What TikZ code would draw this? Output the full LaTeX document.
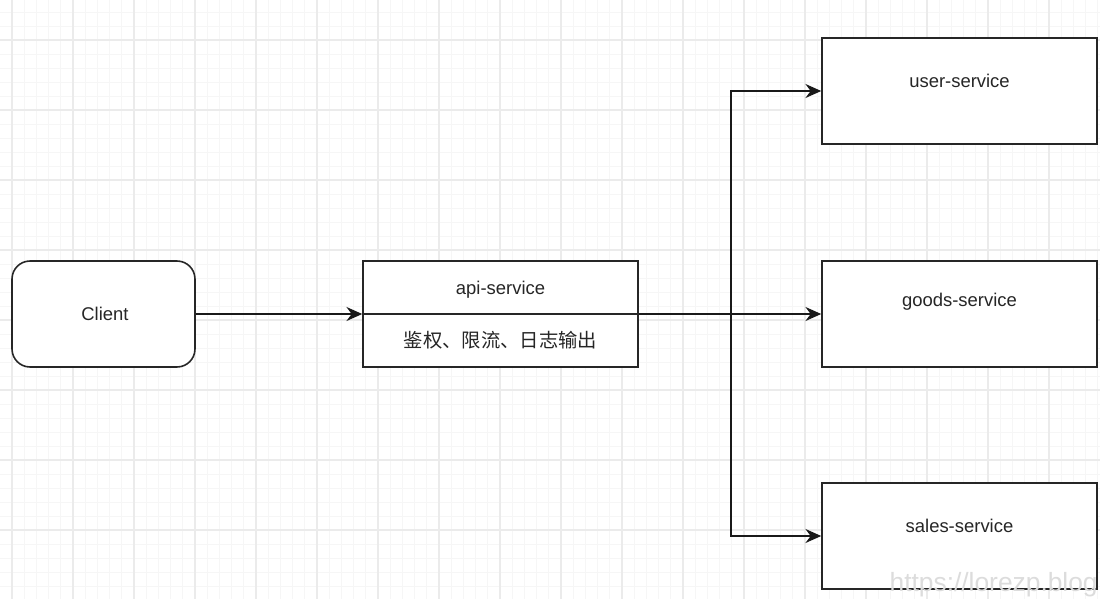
\documentclass[tikz,border=0pt]{standalone}
\usepackage{fontspec}
\setmainfont{Liberation Sans}
\newfontfamily\cjk{Noto Sans CJK SC}
\usetikzlibrary{arrows.meta}
\definecolor{gridminor}{HTML}{F6F6F6}
\definecolor{gridmajor}{HTML}{EBEBEB}
\definecolor{wmark}{HTML}{DCDCDC}
\tikzset{
  box/.style={draw=black!85, line width=0.9pt, fill=white, rectangle, minimum width=5.5cm, minimum height=2.12cm, inner sep=0pt},
  roundbox/.style={box, rounded corners=0.36cm, minimum width=3.66cm},
  lbl/.style={font=\fontsize{10.5}{12}\selectfont, text=black!85},
  conn/.style={draw=black!90, line width=0.9pt, -{Stealth[length=9pt,width=8pt,inset=3pt]}}
}
\begin{document}
\begin{tikzpicture}[x=0.02cm,y=-0.02cm]
\useasboundingbox (0,0) rectangle (1100,599);
% grid
\begin{scope}
\clip (0,0) rectangle (1100,599);
\foreach \i in {0,...,95} {
  \pgfmathsetmacro{\xx}{12+\i*12.2-61}
  \draw[gridminor, line width=0.5pt] (\xx,0) -- (\xx,599);
}
\foreach \i in {0,...,50} {
  \pgfmathsetmacro{\yy}{40+\i*14-70}
  \draw[gridminor, line width=0.5pt] (0,\yy) -- (1100,\yy);
}
\foreach \i in {0,...,19} {
  \pgfmathsetmacro{\xx}{12+\i*61}
  \draw[gridmajor, line width=0.6pt] (\xx,0) -- (\xx,599);
}
\foreach \i in {0,...,9} {
  \pgfmathsetmacro{\yy}{40+\i*70}
  \draw[gridmajor, line width=0.6pt] (0,\yy) -- (1100,\yy);
}
\end{scope}
% nodes
\node[roundbox] (client) at (103.5,314) {};
\node[lbl] (clientlbl) at (105,314) {Client};
\node[box] (api) at (500.5,314) {};
\draw[draw=black!85, line width=0.9pt] (api.west) -- (api.east);
\node[lbl] (apilbl) at (500.5,290) {api-service};
\node[lbl, font=\cjk\fontsize{11}{13}\selectfont] (apisub) at (500.5,340) {鉴权、限流、日志输出};
\node[box] (user) at (959.5,91) {};
\node[lbl] (userlbl) at (959.5,81) {user-service};
\node[box] (goods) at (959.5,314) {};
\node[lbl] (goodslbl) at (959.5,302) {goods-service};
\node[box] (sales) at (959.5,536) {};
\node[lbl] (saleslbl) at (959.5,526) {sales-service};
% connectors
\coordinate (br) at (731,314);
\draw[conn] (client.east) -- (api.west);
\draw[conn] (api.east) -- (goods.west);
\draw[conn] (br) |- (user.west);
\draw[conn] (br) |- (sales.west);
% watermark
\node[anchor=base east, text=wmark, font=\fontsize{15}{17}\selectfont, inner sep=0pt] (wm) at (1098,591) {https://lorezp.blog};
\end{tikzpicture}
\end{document}
